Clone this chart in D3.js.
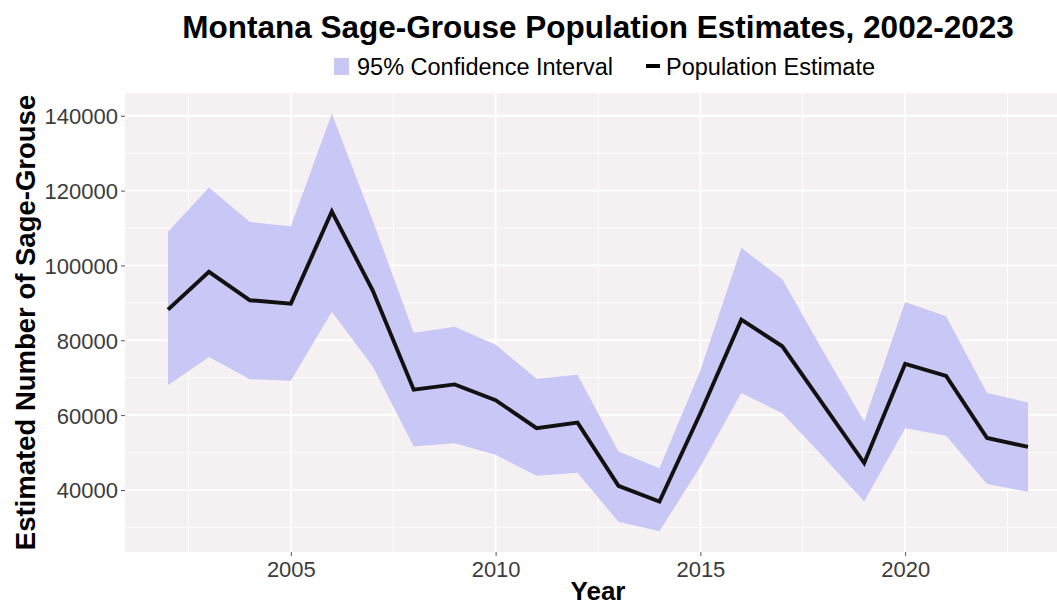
<!DOCTYPE html>
<html>
<head>
<meta charset="utf-8">
<script src="https://cdn.jsdelivr.net/npm/d3@7"></script>
<style>
  html, body { margin: 0; padding: 0; background: #ffffff; }
  svg { display: block; font-family: "Liberation Sans", Arial, Helvetica, sans-serif; }
</style>
</head>
<body>
<svg id="chart" width="1057" height="605"></svg>
<script>
// ---- data ----
const years    = [2002, 2003, 2004, 2005, 2006, 2007, 2008, 2009, 2010, 2011, 2012, 2013, 2014, 2015, 2016, 2017, 2018, 2019, 2020, 2021, 2022, 2023];
const estimate = [88200, 98300, 90700, 89800, 114400, 93300, 66800, 68200, 64000, 56500, 58000, 41100, 36900, 60500, 85500, 78400, 62800, 47200, 73700, 70500, 53900, 51500];
const upperCI  = [109000, 120800, 111600, 110500, 140500, 112000, 82000, 83600, 78800, 69700, 70800, 50300, 45800, 72000, 104700, 96300, 77000, 58300, 90200, 86400, 65900, 63400];
const lowerCI  = [68000, 75500, 69600, 69200, 87600, 73000, 51600, 52500, 49400, 43800, 44600, 31500, 29000, 46300, 65900, 60500, 48900, 36900, 56500, 54500, 41600, 39500];
const xTicks   = [2005, 2010, 2015, 2020];
const yTicks   = [40000, 60000, 80000, 100000, 120000, 140000];
const xMinor   = [2002.5, 2007.5, 2012.5, 2017.5, 2022.5];
const yMinor   = [30000, 50000, 70000, 90000, 110000, 130000];
const titleText = "Montana Sage-Grouse Population Estimates, 2002-2023";
const legendLabels = ["95% Confidence Interval", "Population Estimate"];
const xTitle = "Year";
const yTitle = "Estimated Number of Sage-Grouse";

// ---- layout ----
const W = 1057, H = 605;
const panel = { left: 125, right: 1071, top: 93, bottom: 552 };
const ribbonFill = "#c9c7f5";
const panelBg = "#f5f1f3";

const rows = years.map((y, i) => ({ year: y, est: estimate[i], lo: lowerCI[i], hi: upperCI[i] }));

const xExt = d3.extent(years);
const xPad = (xExt[1] - xExt[0]) * 0.05;
const x = d3.scaleLinear().domain([xExt[0] - xPad, xExt[1] + xPad]).range([panel.left, panel.right]);

const yMin = d3.min(lowerCI), yMax = d3.max(upperCI);
const yPad = (yMax - yMin) * 0.05;
const y = d3.scaleLinear().domain([yMin - yPad, yMax + yPad]).range([panel.bottom, panel.top]);

const svg = d3.select("#chart");

svg.append("defs").append("clipPath").attr("id", "clip")
  .append("rect").attr("x", panel.left).attr("y", panel.top)
  .attr("width", panel.right - panel.left).attr("height", panel.bottom - panel.top);

// panel background
svg.append("rect")
  .attr("x", panel.left).attr("y", panel.top)
  .attr("width", panel.right - panel.left).attr("height", panel.bottom - panel.top)
  .attr("fill", panelBg);

const grid = svg.append("g").attr("clip-path", "url(#clip)");
// minor grid
grid.selectAll(".ymin").data(yMinor).enter().append("line")
  .attr("x1", panel.left).attr("x2", panel.right)
  .attr("y1", d => y(d)).attr("y2", d => y(d))
  .attr("stroke", "#ffffff").attr("stroke-width", 0.9);
grid.selectAll(".xmin").data(xMinor).enter().append("line")
  .attr("y1", panel.top).attr("y2", panel.bottom)
  .attr("x1", d => x(d)).attr("x2", d => x(d))
  .attr("stroke", "#ffffff").attr("stroke-width", 0.9);
// major grid
grid.selectAll(".ymaj").data(yTicks).enter().append("line")
  .attr("x1", panel.left).attr("x2", panel.right)
  .attr("y1", d => y(d)).attr("y2", d => y(d))
  .attr("stroke", "#ffffff").attr("stroke-width", 1.8);
grid.selectAll(".xmaj").data(xTicks).enter().append("line")
  .attr("y1", panel.top).attr("y2", panel.bottom)
  .attr("x1", d => x(d)).attr("x2", d => x(d))
  .attr("stroke", "#ffffff").attr("stroke-width", 1.8);

// ribbon
const area = d3.area().x(d => x(d.year)).y0(d => y(d.lo)).y1(d => y(d.hi));
svg.append("path").datum(rows).attr("d", area).attr("fill", ribbonFill);

// line
const line = d3.line().x(d => x(d.year)).y(d => y(d.est));
svg.append("path").datum(rows).attr("d", line)
  .attr("fill", "none").attr("stroke", "#111111").attr("stroke-width", 3.9)
  .attr("stroke-linejoin", "miter").attr("stroke-linecap", "butt");

// axes
const yAxis = d3.axisLeft(y).tickValues(yTicks).tickSize(4).tickPadding(3).tickFormat(d3.format("d"));
const gy = svg.append("g").attr("transform", `translate(${panel.left},0)`).call(yAxis);
gy.select(".domain").remove();
gy.selectAll(".tick line").attr("stroke", "#555555").attr("stroke-width", 1);
gy.selectAll(".tick text").attr("fill", "#3c3c3c").attr("font-size", "22px")
  .attr("font-family", "'Liberation Sans', Arial, sans-serif").attr("dy", "0.36em");

const xAxis = d3.axisBottom(x).tickValues(xTicks).tickSize(4).tickPadding(5).tickFormat(d3.format("d"));
const gx = svg.append("g").attr("transform", `translate(0,${panel.bottom})`).call(xAxis);
gx.select(".domain").remove();
gx.selectAll(".tick line").attr("stroke", "#555555").attr("stroke-width", 1);
gx.selectAll(".tick text").attr("fill", "#3c3c3c").attr("font-size", "22px")
  .attr("font-family", "'Liberation Sans', Arial, sans-serif");

// axis titles
const cx = (panel.left + panel.right) / 2;
svg.append("text").attr("x", cx).attr("y", 600).attr("text-anchor", "middle")
  .attr("font-size", "26px").attr("font-weight", "bold").attr("fill", "#000").text(xTitle);
svg.append("text")
  .attr("transform", `translate(35,${(panel.top + panel.bottom) / 2}) rotate(-90)`)
  .attr("text-anchor", "middle").attr("font-size", "27.5px").attr("font-weight", "bold")
  .attr("fill", "#000").text(yTitle);

// title
svg.append("text").attr("x", cx).attr("y", 38).attr("text-anchor", "middle")
  .attr("font-size", "31.5px").attr("font-weight", "bold").attr("fill", "#000").text(titleText);

// legend
const lg = svg.append("g");
lg.append("rect").attr("x", 334).attr("y", 58).attr("width", 15).attr("height", 17).attr("fill", ribbonFill);
lg.append("text").attr("x", 357).attr("y", 75).attr("font-size", "23.5px").attr("fill", "#000").text(legendLabels[0]);
lg.append("line").attr("x1", 646).attr("x2", 660).attr("y1", 66).attr("y2", 66)
  .attr("stroke", "#000").attr("stroke-width", 4);
lg.append("text").attr("x", 666).attr("y", 75).attr("font-size", "23.5px").attr("fill", "#000").text(legendLabels[1]);
</script>
</body>
</html>
